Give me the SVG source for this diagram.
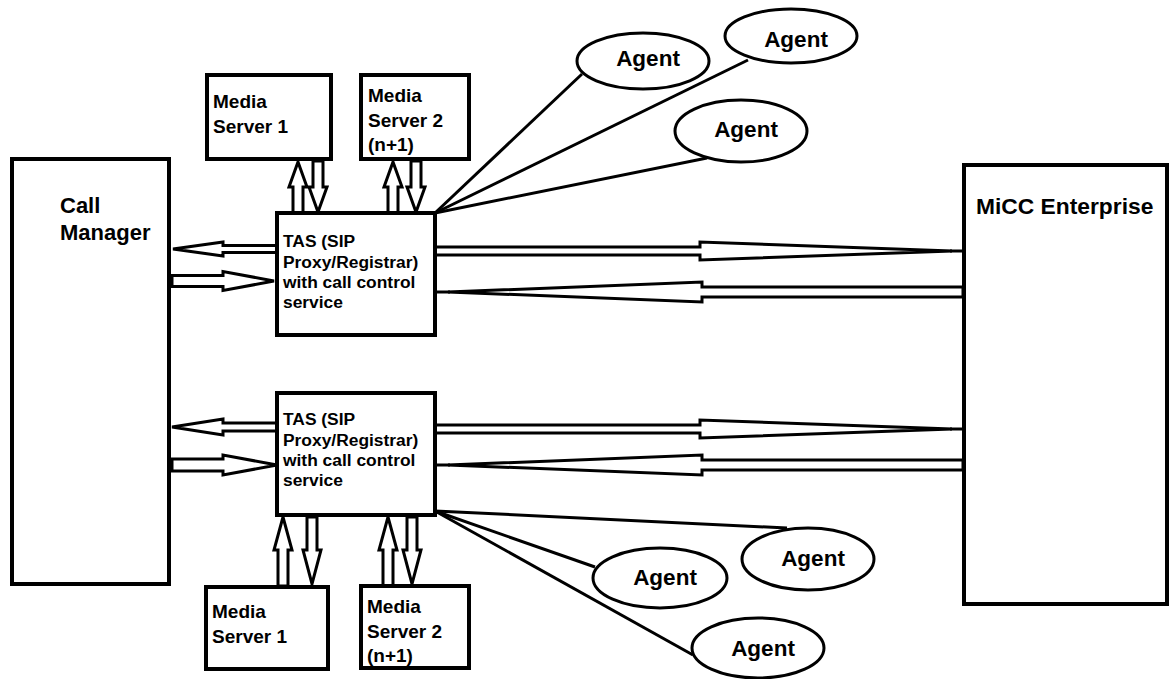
<svg xmlns="http://www.w3.org/2000/svg" width="1170" height="679" viewBox="0 0 1170 679">
<style>
.box{fill:#fff;stroke:#000;stroke-width:4}
.ell{fill:#fff;stroke:#000;stroke-width:3}
.arr{fill:#fff;stroke:#000;stroke-width:3;stroke-linejoin:miter}
.ln{stroke:#000;stroke-width:3;fill:none}
text{font-family:"Liberation Sans",Arial,sans-serif;font-weight:bold;fill:#000}
.big{font-size:22px}
.mi{font-size:22.8px}
.ms{font-size:19px}
.tas{font-size:17.4px}
.ag{font-size:22.5px;text-anchor:middle}
</style>
<rect width="1170" height="679" fill="#fff"/>
<g id="connectors">
<line class="ln" x1="435" y1="213" x2="582" y2="74"/>
<line class="ln" x1="435" y1="213" x2="748" y2="60"/>
<line class="ln" x1="435" y1="213" x2="707" y2="158"/>
<line class="ln" x1="435" y1="511" x2="787" y2="528"/>
<line class="ln" x1="435" y1="511" x2="595" y2="567"/>
<line class="ln" x1="435" y1="511" x2="693" y2="655"/>
<polygon class="arr" points="277,245.5 223,245.5 223,242 173,249 223,256 223,252.5 277,252.5"/>
<polygon class="arr" points="172,275.5 223,275.5 223,271.5 274,281 223,290.5 223,286.5 172,286.5"/>
<polygon class="arr" points="277,423 223,423 223,419 172,427 223,435 223,431 277,431"/>
<polygon class="arr" points="172,459 223,459 223,455 277,465 223,475 223,471 172,471"/>
<polygon class="arr" points="293,213 293,187 289,187 298,162 307,187 303,187 303,213"/>
<polygon class="arr" points="313,161 313,187 309,187 318,212 327,187 323,187 323,161"/>
<polygon class="arr" points="388,213 388,187 384,187 393,162 402,187 398,187 398,213"/>
<polygon class="arr" points="411,161 411,187 407,187 416,212 425,187 421,187 421,161"/>
<polygon class="arr" points="278,586 278,550 274,550 283,517 292,550 288,550 288,586"/>
<polygon class="arr" points="307,517 307,550 303,550 312,584 321,550 317,550 317,517"/>
<polygon class="arr" points="383,586 383,550 379,550 388,517 397,550 393,550 393,586"/>
<polygon class="arr" points="407,517 407,550 403,550 412,584 421,550 417,550 417,517"/>
<polygon class="arr" points="435,247 700,247 700,242 952,251 700,260 700,255 435,255"/>
<line class="ln" x1="950" y1="251" x2="963" y2="251"/>
<polygon class="arr" points="963,287 702,287 702,282 448,292 702,302 702,297 963,297"/>
<line class="ln" x1="435" y1="292" x2="450" y2="292"/>
<polygon class="arr" points="435,425 700,425 700,420 952,429 700,438 700,433 435,433"/>
<line class="ln" x1="950" y1="429" x2="963" y2="429"/>
<polygon class="arr" points="963,460 702,460 702,455 448,465 702,475 702,470 963,470"/>
<line class="ln" x1="435" y1="465" x2="450" y2="465"/>
</g>
<g id="call-manager">
<rect class="box" x="12" y="159" width="157" height="425"/>
<text class="big" x="60" y="213">Call</text>
<text class="big" x="60" y="240">Manager</text>
</g>
<g id="micc">
<rect class="box" x="964" y="165" width="203" height="439"/>
<text class="mi" x="976" y="214">MiCC Enterprise</text>
</g>
<g id="tas-top">
<rect class="box" x="277" y="213" width="158" height="122"/>
<text class="tas" x="283" y="247">TAS (SIP</text>
<text class="tas" x="283" y="268">Proxy/Registrar)</text>
<text class="tas" x="283" y="288">with call control</text>
<text class="tas" x="283" y="308">service</text>
</g>
<g id="tas-bottom">
<rect class="box" x="277" y="393" width="158" height="122"/>
<text class="tas" x="283" y="425">TAS (SIP</text>
<text class="tas" x="283" y="446">Proxy/Registrar)</text>
<text class="tas" x="283" y="466">with call control</text>
<text class="tas" x="283" y="486">service</text>
</g>
<g id="ms1-top">
<rect class="box" x="207" y="75" width="124" height="84"/>
<text class="ms" x="213" y="108">Media</text>
<text class="ms" x="213" y="133">Server 1</text>
</g>
<g id="ms2-top">
<rect class="box" x="361" y="75" width="108" height="84"/>
<text class="ms" x="368" y="102">Media</text>
<text class="ms" x="368" y="127">Server 2</text>
<text class="ms" x="368" y="151">(n+1)</text>
</g>
<g id="ms1-bottom">
<rect class="box" x="206" y="587" width="122" height="82"/>
<text class="ms" x="212" y="618">Media</text>
<text class="ms" x="212" y="643">Server 1</text>
</g>
<g id="ms2-bottom">
<rect class="box" x="361" y="586" width="108" height="82"/>
<text class="ms" x="367" y="613">Media</text>
<text class="ms" x="367" y="638">Server 2</text>
<text class="ms" x="367" y="662">(n+1)</text>
</g>
<g id="agent-t1">
<ellipse class="ell" cx="643" cy="61" rx="66" ry="28"/>
<text class="ag" x="648" y="66">Agent</text>
</g>
<g id="agent-t2">
<ellipse class="ell" cx="791" cy="36" rx="66" ry="27"/>
<text class="ag" x="796" y="47">Agent</text>
</g>
<g id="agent-t3">
<ellipse class="ell" cx="741" cy="131" rx="66" ry="31"/>
<text class="ag" x="746" y="137">Agent</text>
</g>
<g id="agent-b1">
<ellipse class="ell" cx="808" cy="559" rx="66" ry="31"/>
<text class="ag" x="813" y="566">Agent</text>
</g>
<g id="agent-b2">
<ellipse class="ell" cx="660" cy="578" rx="67" ry="30"/>
<text class="ag" x="665" y="585">Agent</text>
</g>
<g id="agent-b3">
<ellipse class="ell" cx="758" cy="648" rx="66" ry="30"/>
<text class="ag" x="763" y="656">Agent</text>
</g>
</svg>
